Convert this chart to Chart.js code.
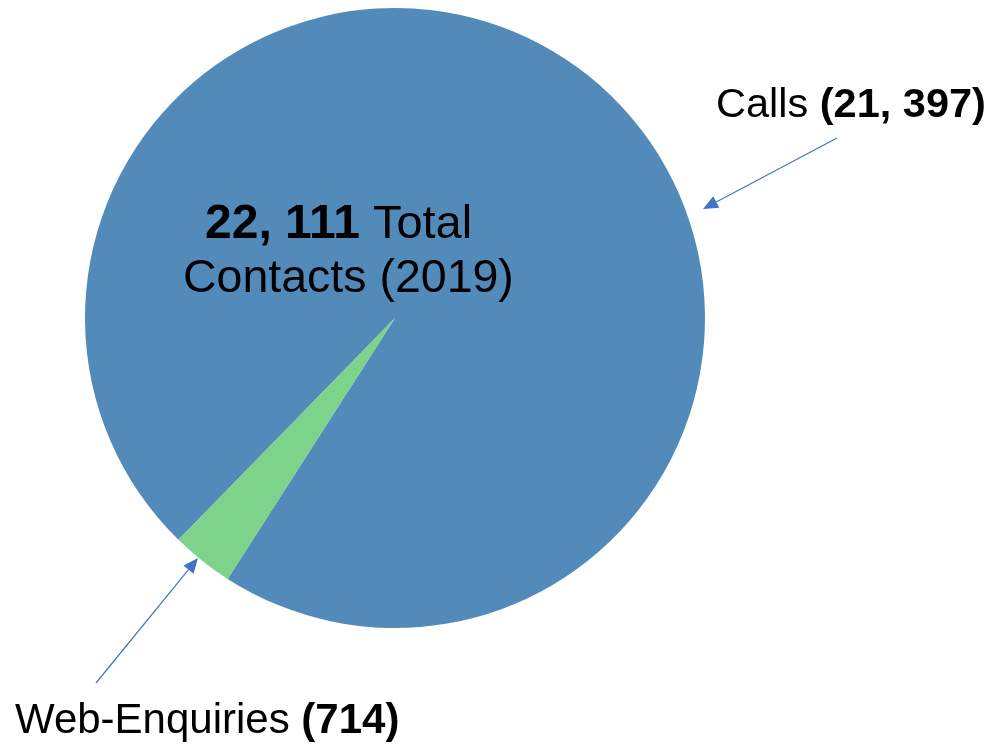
<!DOCTYPE html>
<html>
<head>
<meta charset="utf-8">
<script src="https://cdn.jsdelivr.net/npm/chart.js@4.4.1/dist/chart.umd.min.js"></script>
<style>
  html, body { margin: 0; padding: 0; background: #ffffff; }
  #wrap { position: relative; width: 997px; height: 747px; }
  canvas { display: block; }
</style>
</head>
<body>
<div id="wrap"><canvas id="c" width="997" height="747"></canvas></div>
<script>
const categories = ["Calls", "Web-Enquiries"];
const values = [21397, 714];
const valueLabels = ["21, 397", "714"];
const totalLabel = "22, 111";
const colors = ["#528bba", "#7cd389"];

const FONT = '"Liberation Sans", Arial, Helvetica, sans-serif';

function drawRuns(ctx, x, y, runs) {
  let cx = x;
  for (const r of runs) {
    ctx.font = (r.bold ? 'bold ' : '') + r.size + 'px ' + FONT;
    ctx.fillText(r.t, cx, y);
    cx += ctx.measureText(r.t).width;
  }
}

function arrow(ctx, x1, y1, x2, y2) {
  const ang = Math.atan2(y2 - y1, x2 - x1);
  const hl = 15, hw = 6.5;
  const bx = x2 - hl * Math.cos(ang), by = y2 - hl * Math.sin(ang);
  ctx.strokeStyle = '#4472c4';
  ctx.fillStyle = '#4472c4';
  ctx.lineWidth = 1.2;
  ctx.beginPath();
  ctx.moveTo(x1, y1);
  ctx.lineTo(bx, by);
  ctx.stroke();
  ctx.beginPath();
  ctx.moveTo(x2, y2);
  ctx.lineTo(bx + hw * Math.sin(ang), by - hw * Math.cos(ang));
  ctx.lineTo(bx - hw * Math.sin(ang), by + hw * Math.cos(ang));
  ctx.closePath();
  ctx.fill();
}

const annotations = {
  id: 'annotations',
  afterDraw(chart) {
    const ctx = chart.ctx;
    ctx.save();
    ctx.textBaseline = 'alphabetic';
    ctx.textAlign = 'left';
    ctx.fillStyle = '#000000';
    drawRuns(ctx, 205, 238, [{t: totalLabel, bold: true, size: 48}, {t: ' Total', size: 47}]);
    drawRuns(ctx, 183, 292, [{t: 'Contacts (2019)', size: 46.5}]);
    drawRuns(ctx, 716, 117, [{t: categories[0] + ' ', size: 41.5}, {t: '(' + valueLabels[0] + ')', bold: true, size: 41.5}]);
    drawRuns(ctx, 15, 733, [{t: categories[1] + ' ', size: 42}, {t: '(' + valueLabels[1] + ')', bold: true, size: 42}]);
    arrow(ctx, 837, 138, 703, 209);
    arrow(ctx, 96, 683, 198, 558);
    ctx.restore();
  }
};

new Chart(document.getElementById('c'), {
  type: 'pie',
  data: {
    labels: categories,
    datasets: [{
      data: values,
      backgroundColor: colors,
      borderWidth: 0
    }]
  },
  options: {
    responsive: false,
    animation: false,
    rotation: -135.7,
    layout: { padding: { left: 85, right: 292, top: 8, bottom: 119 } },
    plugins: {
      legend: { display: false },
      tooltip: { enabled: false }
    }
  },
  plugins: [annotations]
});
</script>
</body>
</html>
